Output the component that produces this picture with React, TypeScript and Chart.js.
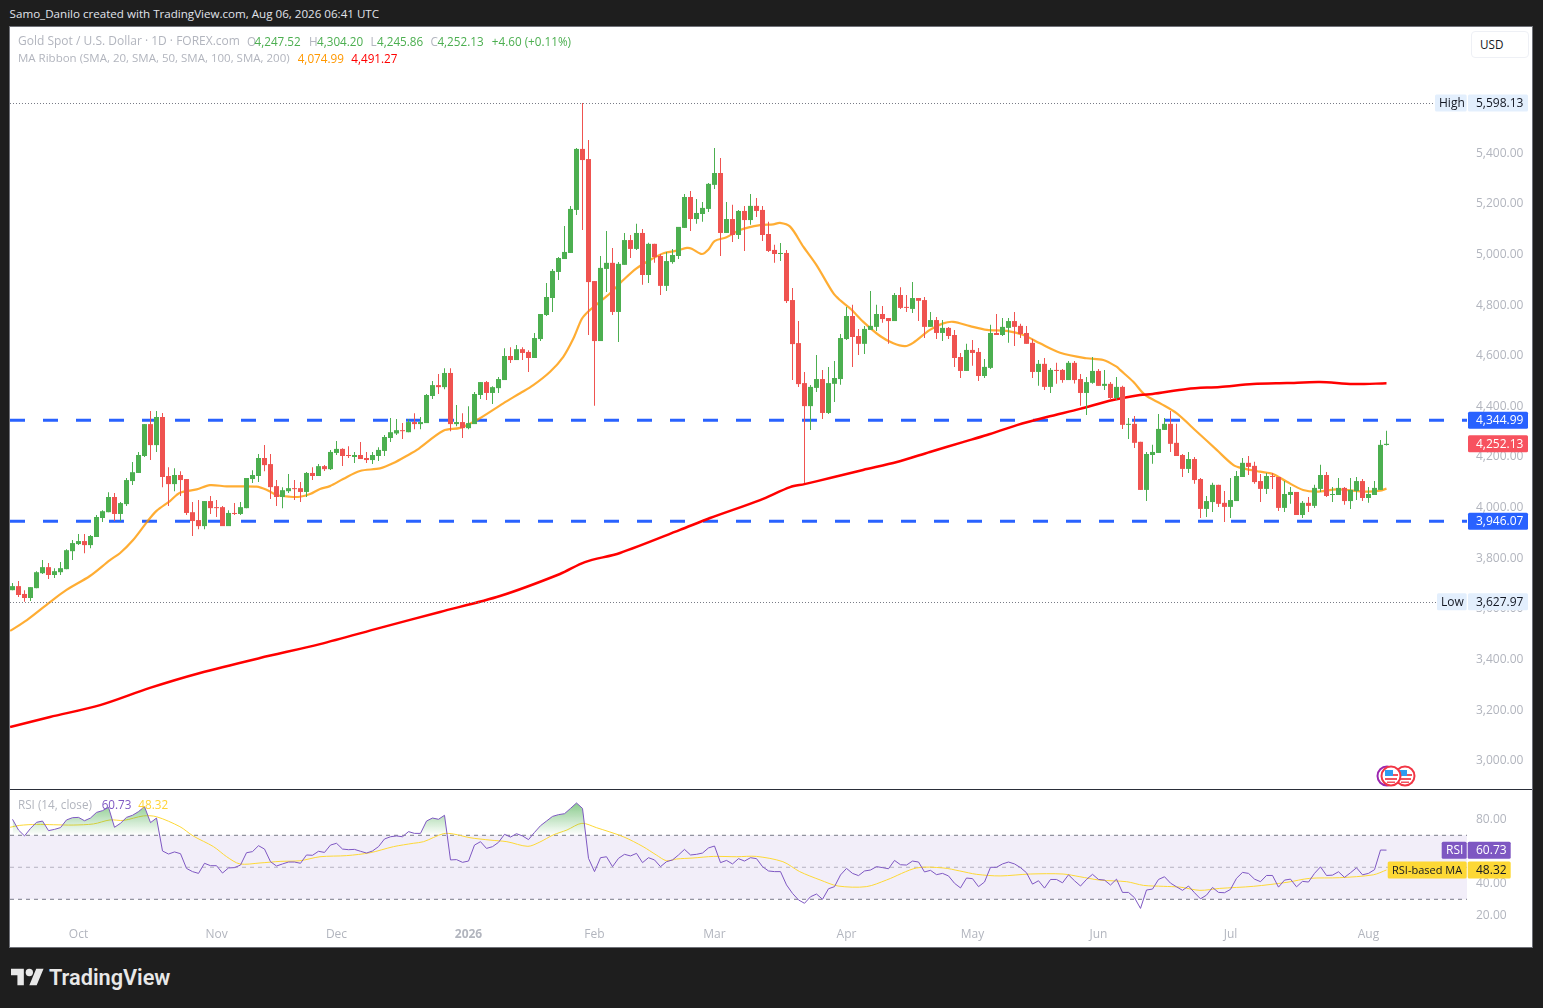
import React, { useEffect, useRef } from "react";
import { Chart, registerables } from "chart.js";

Chart.register(...registerables);

const open = [
3674,3690,3659,3643,3682,3741,3765,3734,3745,3757,
3828,3856,3868,3852,3884,3959,3982,4042,3975,4014,
4105,4137,4204,4330,4247,4358,4125,4093,4129,4113,
3982,3951,3927,4026,4002,4002,3927,3979,3975,3998,
4113,4125,4196,4172,4085,4042,4065,4077,4077,4062,
4137,4125,4164,4152,4216,4232,4208,4200,4208,4196,
4188,4204,4224,4275,4293,4306,4298,4338,4330,4334,
4441,4484,4476,4532,4330,4338,4314,4330,4445,4496,
4453,4472,4504,4599,4583,4626,4615,4591,4666,4761,
4828,4931,4982,5006,5176,5417,5377,4895,4658,4943,
4967,4773,4959,5057,5022,5085,4919,5042,4994,4876,
4970,4994,5105,5227,5140,5160,5180,5275,5322,5085,
5140,5077,5172,5136,5192,5176,5081,5018,5002,5006,
4820,4650,4492,4401,4473,4508,4374,4489,4508,4666,
4757,4678,4647,4702,4714,4765,4749,4737,4840,4793,
4785,4828,4820,4714,4741,4690,4710,4682,4595,4540,
4623,4615,4520,4552,4690,4682,4710,4737,4718,4690,
4651,4536,4568,4477,4544,4544,4504,4572,4508,4453,
4493,4540,4481,4489,4433,4477,4327,4331,4260,4070,
4208,4216,4307,4331,4256,4208,4153,4192,4113,3995,
4022,4090,4019,4003,4026,4121,4177,4165,4105,4074,
4125,4121,3999,4050,4062,3971,4019,4007,4074,4129,
4050,4050,4078,4026,4066,4105,4038,4050,4070,4247.52];

const high = [
3702,3710,3674,3686,3749,3793,3781,3761,3785,3836,
3872,3896,3896,3892,3971,3990,4061,4058,4022,4117,
4180,4220,4330,4382,4382,4374,4160,4156,4144,4113,
4022,4030,4026,4046,4030,4006,3990,4018,4022,4117,
4148,4212,4247,4212,4109,4081,4133,4109,4101,4141,
4160,4172,4168,4228,4263,4235,4243,4220,4259,4220,
4220,4239,4287,4354,4350,4334,4350,4373,4358,4449,
4500,4528,4551,4551,4405,4373,4401,4457,4496,4500,
4480,4516,4630,4634,4642,4634,4622,4690,4765,4887,
4943,4990,5113,5192,5421,5598.13,5452,4895,4994,5093,
5026,4970,5085,5077,5121,5101,5046,5042,5002,5010,
5022,5109,5239,5251,5219,5207,5282,5421,5381,5207,
5196,5176,5192,5239,5223,5192,5129,5038,5045,5018,
4868,4737,4536,4484,4603,4544,4556,4579,4686,4793,
4801,4706,4718,4856,4801,4797,4749,4848,4871,4840,
4891,4828,4832,4773,4753,4741,4714,4702,4611,4647,
4662,4631,4587,4722,4765,4749,4749,4773,4726,4718,
4666,4583,4591,4552,4572,4548,4579,4579,4528,4516,
4595,4548,4544,4496,4516,4481,4354,4362,4260,4220,
4248,4370,4354,4382,4331,4212,4220,4200,4117,4046,
4098,4090,4066,4117,4145,4196,4204,4181,4133,4137,
4137,4121,4105,4082,4062,4026,4042,4090,4169,4141,
4082,4117,4082,4117,4121,4113,4082,4105,4267,4304.2];

const low = [
3674,3647,3628,3631,3682,3738,3718,3722,3734,3757,
3793,3852,3820,3840,3884,3943,3982,3947,3947,4006,
4089,4137,4200,4188,4220,4081,4006,4065,4046,3971,
3888,3915,3915,3975,3963,3927,3927,3971,3971,3998,
4097,4101,4144,4034,4006,3998,4058,4030,4022,4042,
4109,4125,4145,4149,4208,4164,4196,4176,4192,4176,
4172,4184,4204,4259,4287,4271,4298,4310,4310,4334,
4429,4449,4468,4302,4322,4275,4310,4330,4429,4425,
4409,4453,4504,4571,4583,4583,4536,4591,4658,4757,
4773,4899,4982,5006,5156,5097,4682,4402,4658,4852,
4761,4654,4959,4986,5018,4880,4887,4967,4840,4856,
4963,4982,5105,5093,5121,5129,5168,5259,4994,5085,
5049,5061,5014,5117,5148,5053,5010,4967,4974,4808,
4504,4477,4097,4307,4457,4350,4370,4417,4485,4662,
4556,4603,4607,4702,4698,4730,4647,4737,4785,4773,
4769,4737,4670,4714,4666,4658,4666,4556,4512,4540,
4560,4500,4512,4548,4682,4678,4651,4639,4670,4647,
4512,4481,4465,4453,4489,4493,4504,4490,4402,4366,
4489,4481,4465,4425,4425,4311,4271,4236,4070,4026,
4173,4216,4307,4220,4204,4121,4137,4094,3959,3963,
3983,4003,3943,3959,4026,4121,4129,4094,4022,4054,
4074,3987,3983,4015,3971,3959,3983,3999,4062,4042,
4022,4050,4011,3995,4030,4026,4019,4050,4070,4245.86];

const close = [
3690,3655,3643,3686,3745,3765,3734,3749,3761,3832,
3860,3868,3852,3888,3963,3986,4042,3975,4018,4109,
4140,4208,4330,4247,4358,4121,4093,4129,4109,3979,
3947,3927,4026,3998,3998,3927,3979,3975,4002,4117,
4129,4196,4168,4081,4042,4069,4077,4073,4062,4137,
4125,4164,4152,4220,4232,4204,4204,4208,4192,4188,
4208,4228,4279,4298,4306,4302,4338,4330,4338,4445,
4484,4476,4532,4330,4338,4314,4334,4449,4496,4453,
4476,4508,4599,4583,4626,4611,4591,4670,4765,4832,
4935,4986,5010,5180,5417,5373,4891,4658,4947,4967,
4773,4963,5057,5022,5085,4919,5042,4990,4876,4974,
4998,5109,5227,5140,5164,5184,5279,5322,5085,5140,
5077,5172,5136,5192,5172,5077,5014,5002,5006,4816,
4646,4488,4401,4477,4508,4374,4492,4512,4670,4757,
4674,4647,4706,4718,4765,4745,4737,4840,4789,4789,
4828,4817,4714,4741,4690,4710,4678,4591,4540,4623,
4611,4520,4556,4690,4682,4714,4737,4714,4686,4647,
4536,4568,4477,4544,4540,4504,4572,4504,4453,4496,
4540,4481,4489,4433,4477,4327,4331,4256,4070,4212,
4220,4311,4331,4252,4204,4153,4192,4109,3995,4026,
4090,4015,4003,4030,4125,4177,4161,4101,4074,4125,
4121,3999,4054,4062,3971,4019,4007,4078,4129,4046,
4054,4078,4026,4070,4105,4038,4054,4078,4248,4252.13];

// MA Ribbon: bar position (fractional where the read fell between bars) and value
const sma20Bar = [-0.4,2.4,6.25,9,12.9,16.25,17.9,20.1,22.4,24,26.25,27.9,30.7,32.9,35.7,40.7,42.4,44,46.25,47.9,49.6,51.25,52.9,55.1,57.9,61.25,63.4,66.25,67.4,71.8,74.6,77.4,81.8,84.6,86.8,89.6,91.8,93.5,94.9,96,97.9,99.6,101.8,104,106.25,108.5,110.7,112.4,113.2,114.9,116,117,119,121.25,124.6,126.8,127.9,129.6,131.8,134,136.8,137.9,139.6,141.8,144.6,146.8,148.75,150.1,152.9,155.1,156.8,159.6,162.4,165.7,168.5,171.25,174.6,179,181.8,184,184.6,186.8,188.75,191.5,194,197.4,200.7,203.5,205.1,207.9,210.1,212.4,215.1,217.4,220.7,225.7,227.9,229];
const sma20 = [3513,3556,3627,3675,3730,3793,3820,3872,3943,3987,4026,4059,4072,4089,4084,4083,4070,4050,4043,4043,4054,4074,4085,4113,4145,4155,4175,4212,4228,4304,4315,4346,4412,4452,4484,4537,4596,4669,4746,4776,4813,4847,4899,4945,4978,5005,5015,5026,5023,5002,5020,5053,5068,5097,5116,5119,5125,5110,5031,4958,4847,4820,4787,4734,4678,4649,4638,4651,4702,4728,4734,4717,4702,4698,4682,4649,4612,4590,4583,4557,4544,4497,4445,4409,4373,4300,4228,4168,4155,4142,4133,4102,4070,4063,4072,4063,4067,4074.99];

const sma200Bar = [-0.4,6.25,14.6,22.9,31.25,41.25,51.25,61.25,71.25,81.25,91.25,95.4,101.25,111.25,116.25,124.6,129.6,132,136.25,141.75,147.4,152.9,158.4,162.4,167.4,172.4,177.9,183.4,187.9,190,195.75,201.25,206.75,212.4,217.9,223.4,229];
const sma200 = [3133,3173,3220,3288,3347,3406,3461,3525,3588,3651,3738,3785,3821,3912,3959,4030,4081,4093,4117,4149,4180,4220,4259,4287,4326,4358,4390,4425,4445,4449,4469,4477,4488,4492,4496,4488,4491.27];

const rsi = [
80.0,73.3,69.6,74.3,78.1,78.9,72.9,73.7,74.8,79.6,
81.0,81.2,79.1,80.8,84.3,85.4,87.5,75.0,77.5,81.2,
82.5,84.8,87.9,77.9,80.8,60.2,58.3,59.6,58.5,49.3,
47.3,46.2,52.5,51.0,51.0,46.4,49.6,49.8,51.4,59.1,
59.8,63.5,61.4,53.5,50.8,52.1,53.3,53.3,52.5,57.7,
57.5,60.0,59.3,63.9,65.0,61.4,61.0,61.2,60.0,58.9,
60.2,62.9,67.7,69.1,69.6,69.1,72.3,71.2,71.2,78.9,
80.8,80.0,82.5,54.6,54.8,53.1,53.9,63.9,66.0,61.8,
62.9,65.6,70.6,68.9,71.0,69.6,67.3,71.8,76.0,78.9,
81.8,82.9,83.5,86.8,90.2,86.8,55.6,47.3,56.0,56.6,
50.4,55.6,58.1,57.1,58.7,52.9,56.0,54.6,50.4,53.5,
54.6,57.7,61.2,57.7,58.1,58.9,62.1,63.3,52.9,54.3,
52.1,55.4,53.9,56.0,55.4,50.4,47.7,47.3,47.3,39.0,
33.7,29.6,27.5,31.6,33.3,30.0,36.6,37.9,45.2,49.3,
46.2,44.8,47.7,48.3,50.4,49.8,49.1,54.3,51.6,51.4,
53.9,53.3,47.1,48.1,45.4,46.2,44.6,40.0,37.1,43.3,
42.9,37.9,40.8,50.0,50.0,52.1,53.3,52.1,49.8,46.6,
39.5,41.6,37.0,42.4,42.4,40.3,45.3,41.6,38.3,42.4,
45.6,42.4,42.0,38.9,42.6,34.3,34.3,31.0,24.3,35.8,
36.4,42.4,44.1,40.1,37.8,35.6,38.3,34.1,30.3,32.6,
37.4,34.3,34.1,36.2,43.1,46.8,46.2,42.6,41.0,44.9,
44.9,37.6,42.0,42.6,37.8,41.2,40.8,46.2,50.3,44.9,
45.1,47.2,43.7,46.6,49.7,45.3,46.2,48.5,60.8,60.73];

const rsiMaBar = [-0.4,1.2,4,6.8,10.1,13.5,16.25,18.5,21.8,24,27.9,30.1,33.5,35.7,37.9,41.25,44.6,47.9,51.25,55.7,59.6,63.5,66.8,68.5,71.8,73.5,76.25,79.6,82.4,85.9,87.9,90.1,92.4,94.9,97.3,101.8,105.1,107.3,109,110.7,113.4,116.8,120.7,124,128.4,131.2,134.6,137.6,142.3,145.7,150.7,155.1,157.9,160.7,164.6,169.6,175.1,177.9,181.2,185.7,188.5,191.8,194.6,197.9,201.2,206.8,212.4,216.2,221.2,226.8,229];
const rsiMa = [75.0,76.2,76.8,76.6,76.4,77.1,79.6,79.3,82.1,81.6,75.4,69.6,62.9,56.6,52.1,52.7,53.7,54.1,56.6,57.3,59.1,62.9,65.0,66.0,71.0,70.8,68.5,67.0,66.0,63.1,65.8,70.2,73.3,77.5,74.8,69.1,62.9,57.7,54.1,55.2,55.8,56.8,56.6,56.8,53.5,47.3,42.1,38.3,37.9,42.1,49.6,49.6,47.7,45.6,44.6,45.8,45.8,44.1,42.0,41.0,38.7,38.1,37.6,35.6,36.8,38.1,40.6,43.1,43.5,45.3,48.32];

const priceTicks = [3000,3200,3400,3600,3800,4000,4200,4400,4600,4800,5000,5200,5400];
const rsiTicks = [20,40,60,80];
const monthBars = [11,34,54,76,97,117,139,160,181,203,226];
const monthLabels = ["Oct","Nov","Dec","2026","Feb","Mar","Apr","May","Jun","Jul","Aug"];

const highMark = 5598.13;
const lowMark = 3627.97;
const resistance = 4344.99;
const support = 3946.07;
const lastClose = 4252.13;
const lastRsi = 60.73;
const lastRsiMa = 48.32;

const FONT = "'Open Sans', sans-serif";
const GREEN = "#4caf50";
const RED = "#ef5350";
const BLUE = "#2962ff";
const PURPLE = "#7e57c2";
const YELLOW = "#fdd835";
const TICK = "#b2b5be";
const XMIN = -2.5 / 6;
const XMAX = (1457 - 2.5) / 6;

const fmt = (v: number) => v.toLocaleString("en-US", { minimumFractionDigits: 2, maximumFractionDigits: 2 });
const pts = (xs: number[], ys: number[]) => xs.map((x, i) => ({ x, y: ys[i] }));
const flat = (v: number) => [{ x: XMIN, y: v }, { x: XMAX, y: v }];

function tag(ctx: CanvasRenderingContext2D, x0: number, x1: number, yc: number, bg: string, fg: string, text: string, tx: number, size = 12) {
  ctx.fillStyle = bg;
  ctx.beginPath();
  (ctx as any).roundRect(x0, yc - 8.5, x1 - x0, 17, 1.5);
  ctx.fill();
  ctx.fillStyle = fg;
  ctx.font = `400 ${size}px ${FONT}`;
  ctx.textAlign = "left";
  ctx.textBaseline = "middle";
  ctx.fillText(text, tx, yc + 0.5);
}

const mainTags = {
  id: "mainTags",
  afterDraw(chart: any) {
    const { ctx, scales } = chart;
    const y = scales.y;
    ctx.save();
    ctx.strokeStyle = "#787b86";
    ctx.lineWidth = 1;
    ctx.setLineDash([1, 2]);
    for (const v of [highMark, lowMark]) {
      const py = Math.round(y.getPixelForValue(v)) + 0.5;
      ctx.beginPath();
      ctx.moveTo(0, py);
      ctx.lineTo(v === highMark ? 1425 : 1427, py);
      ctx.stroke();
    }
    ctx.setLineDash([]);
    const hy = y.getPixelForValue(highMark);
    tag(ctx, 1425, 1456.7, hy, "#e3effd", "#131722", "High", 1429);
    tag(ctx, 1458, 1518, hy, "#e3effd", "#131722", fmt(highMark), 1466);
    const ly = y.getPixelForValue(lowMark);
    tag(ctx, 1427, 1456.7, ly, "#e3effd", "#131722", "Low", 1431);
    tag(ctx, 1458, 1518, ly, "#e3effd", "#131722", fmt(lowMark), 1466);
    tag(ctx, 1458, 1518, y.getPixelForValue(resistance), BLUE, "#ffffff", fmt(resistance), 1466);
    tag(ctx, 1458, 1518, y.getPixelForValue(support), BLUE, "#ffffff", fmt(support), 1466);
    tag(ctx, 1458, 1518, y.getPixelForValue(lastClose), "#f7525f", "#ffffff", fmt(lastClose), 1466);
    ctx.restore();
  },
};

const rsiTags = {
  id: "rsiTags",
  afterDraw(chart: any) {
    const { ctx, scales } = chart;
    const y = scales.y;
    ctx.save();
    const ry = y.getPixelForValue(lastRsi);
    tag(ctx, 1431.7, 1456.7, ry, PURPLE, "#ffffff", "RSI", 1436);
    tag(ctx, 1457.7, 1500.7, ry, PURPLE, "#ffffff", fmt(lastRsi), 1466);
    const my = y.getPixelForValue(lastRsiMa);
    tag(ctx, 1377.7, 1456.7, my, YELLOW, "#131722", "RSI-based MA", 1382, 11);
    tag(ctx, 1457.7, 1500.7, my, YELLOW, "#131722", fmt(lastRsiMa), 1466);
    ctx.restore();
  },
};

const abs = (left: number, top: number, color: string, size = 11.7): React.CSSProperties => ({
  position: "absolute", left, top, color, fontSize: size, lineHeight: "16px", whiteSpace: "nowrap", fontFamily: FONT,
});

function Flag({ cx, ring }: { cx: number; ring: string }) {
  return (
    <svg style={{ position: "absolute", left: cx - 11, top: 765, zIndex: 2 }} width={22} height={22} viewBox="0 0 22 22">
      <circle cx={11} cy={11} r={9.5} fill="#fff" stroke={ring} strokeWidth={2} />
      <rect x={5} y={9} width={13} height={2} fill="#f0525f" />
      <rect x={5} y={13} width={12} height={2} fill="#f0525f" />
      <rect x={7} y={16.5} width={8} height={1.5} fill="#f0525f" />
      <rect x={5} y={5} width={8} height={6} fill="#2e9cf0" />
    </svg>
  );
}

export default function App() {
  const mainRef = useRef<HTMLCanvasElement>(null);
  const rsiRef = useRef<HTMLCanvasElement>(null);

  useEffect(() => {
    const bars = open.map((_, i) => i);
    const col = (c: any) => (close[c.dataIndex] >= open[c.dataIndex] ? GREEN : RED);
    const xAxisBase = {
      type: "linear" as const, min: XMIN, max: XMAX, offset: false,
      grid: { display: false }, border: { display: false },
    };

    const main = new Chart(mainRef.current!, {
      type: "bar",
      data: {
        datasets: [
          { type: "line", data: flat(resistance), borderColor: BLUE, borderWidth: 3, borderDash: [15, 18], pointRadius: 0, order: 5 },
          { type: "line", data: flat(support), borderColor: BLUE, borderWidth: 3, borderDash: [15, 18], pointRadius: 0, order: 5 },
          { type: "line", data: pts(sma20Bar, sma20), borderColor: "rgba(255,152,0,0.8)", borderWidth: 2.2, pointRadius: 0, tension: 0.3, order: 4 },
          { type: "line", data: pts(sma200Bar, sma200), borderColor: "#ff0000", borderWidth: 2.5, pointRadius: 0, tension: 0.3, order: 3 },
          { type: "bar", data: bars.map((i) => ({ x: i, y: [low[i], high[i]] })), backgroundColor: col, barThickness: 1, grouped: false, inflateAmount: 0, order: 2 },
          { type: "bar", data: bars.map((i) => ({ x: i, y: [Math.min(open[i], close[i]), Math.max(open[i], close[i])] })), backgroundColor: col, barThickness: 5, grouped: false, inflateAmount: 0, minBarLength: 1, order: 1 },
        ] as any,
      },
      options: {
        responsive: false, animation: false, events: [],
        layout: { padding: 0, autoPadding: false },
        plugins: { legend: { display: false }, tooltip: { enabled: false } },
        scales: {
          x: { ...xAxisBase, display: false },
          y: {
            position: "right", min: 2888.6, max: 5898.6,
            grid: { display: false, drawTicks: false }, border: { display: false },
            afterFit: (s: any) => { s.width = 65; s.paddingTop = 0; s.paddingBottom = 0; },
            afterBuildTicks: (s: any) => { s.ticks = priceTicks.map((value) => ({ value })); },
            ticks: { color: TICK, padding: 9, font: { family: FONT, size: 12 }, callback: (v: any) => fmt(Number(v)) },
          },
        },
      } as any,
      plugins: [mainTags],
    });

    const rsiChart = new Chart(rsiRef.current!, {
      type: "line",
      data: {
        datasets: [
          { data: flat(70), borderColor: "#787b86", borderWidth: 1, borderDash: [4, 4], pointRadius: 0, fill: { target: { value: 30 }, above: "rgba(126,87,194,0.1)", below: "rgba(126,87,194,0.1)" }, order: 5 },
          { data: flat(50), borderColor: "rgba(120,123,134,0.5)", borderWidth: 1, borderDash: [4, 4], pointRadius: 0, order: 5 },
          { data: flat(30), borderColor: "#787b86", borderWidth: 1, borderDash: [4, 4], pointRadius: 0, order: 5 },
          { data: pts(rsiMaBar, rsiMa), borderColor: YELLOW, borderWidth: 1, pointRadius: 0, tension: 0.3, order: 2 },
          { data: pts(open.map((_, i) => i), rsi), borderColor: PURPLE, borderWidth: 1, pointRadius: 0, fill: { target: { value: 70 }, above: "rgba(76,175,80,0.3)", below: "rgba(0,0,0,0)" }, order: 1 },
        ] as any,
      },
      options: {
        responsive: false, animation: false, events: [],
        layout: { padding: 0, autoPadding: false },
        plugins: { legend: { display: false }, tooltip: { enabled: false } },
        scales: {
          x: {
            ...xAxisBase,
            afterFit: (s: any) => { s.height = 27; s.paddingLeft = 0; s.paddingRight = 0; },
            afterBuildTicks: (s: any) => { s.ticks = monthBars.map((value) => ({ value })); },
            ticks: {
              color: TICK, padding: 7, maxRotation: 0, autoSkip: false,
              font: (c: any) => ({ family: FONT, size: 12, weight: c.tick && monthLabels[monthBars.indexOf(c.tick.value)] === "2026" ? "bold" : "normal" }),
              callback: (v: any) => monthLabels[monthBars.indexOf(Number(v))] ?? "",
            },
            grid: { display: false, drawTicks: false },
          },
          y: {
            position: "right", min: 17.06, max: 98.31,
            grid: { display: false, drawTicks: false }, border: { display: false },
            afterFit: (s: any) => { s.width = 65; s.paddingTop = 0; s.paddingBottom = 0; },
            afterBuildTicks: (s: any) => { s.ticks = rsiTicks.map((value) => ({ value })); },
            ticks: { color: TICK, padding: 9, font: { family: FONT, size: 12 }, callback: (v: any) => fmt(Number(v)) },
          },
        },
      } as any,
      plugins: [rsiTags],
    });
    const s = rsiChart.scales.y;
    const g = rsiChart.ctx.createLinearGradient(0, s.getPixelForValue(90), 0, s.getPixelForValue(70));
    g.addColorStop(0, "rgba(76,175,80,0.65)");
    g.addColorStop(1, "rgba(76,175,80,0)");
    (rsiChart.data.datasets[4] as any).fill.above = g;
    rsiChart.update("none");

    return () => { main.destroy(); rsiChart.destroy(); };
  }, []);

  return (
    <div style={{ position: "fixed", left: 0, top: 0, width: 1543, height: 1008, background: "#1e1e1e", overflow: "hidden", fontFamily: FONT }}>
      <div style={abs(9.6, 6, "#e0e3eb", 11.6)}>Samo_Danilo created with TradingView.com, Aug 06, 2026 06:41 UTC</div>

      <div style={{ position: "absolute", left: 9, top: 26, width: 1522, height: 920, background: "#fff", border: "1px solid #6f7178" }} />
      <canvas ref={mainRef} width={1522} height={762} style={{ position: "absolute", left: 10, top: 27, display: "block" }} />
      <div style={{ position: "absolute", left: 10, top: 789, width: 1522, height: 1, background: "#2a2e39" }} />
      <canvas ref={rsiRef} width={1522} height={157} style={{ position: "absolute", left: 10, top: 790, display: "block" }} />

      <div style={abs(18, 33, TICK, 12)}>Gold Spot / U.S. Dollar · 1D · FOREX.com</div>
      <div style={abs(247, 33, TICK)}>O</div><div style={abs(254.5, 33, GREEN)}>4,247.52</div>
      <div style={abs(309, 33, TICK)}>H</div><div style={abs(317, 33, GREEN)}>4,304.20</div>
      <div style={abs(370.5, 33, TICK)}>L</div><div style={abs(377, 33, GREEN)}>4,245.86</div>
      <div style={abs(430.5, 33, TICK)}>C</div><div style={abs(437.4, 33, GREEN)}>4,252.13</div>
      <div style={abs(491.8, 33, GREEN)}>+4.60 (+0.11%)</div>
      <div style={abs(18, 50, TICK, 11.5)}>MA Ribbon (SMA, 20, SMA, 50, SMA, 100, SMA, 200)</div>
      <div style={abs(297.7, 50, "#ff9800")}>4,074.99</div>
      <div style={abs(351.3, 50, "#ff0000")}>4,491.27</div>

      <div style={{ ...abs(1471, 30.5, "#131722"), width: 56, height: 25, boxSizing: "content-box", border: "1px solid #eef0f5", borderRadius: 4, background: "#fff", lineHeight: "25px", textIndent: 8 }}>USD</div>

      <div style={abs(18, 796, TICK)}>RSI (14, close)</div>
      <div style={abs(101.7, 796, PURPLE)}>60.73</div>
      <div style={abs(138.3, 796, "#ffd335")}>48.32</div>

      <svg style={{ position: "absolute", left: 1376, top: 765, zIndex: 1 }} width={22} height={22} viewBox="0 0 22 22">
        <circle cx={11} cy={11} r={9.5} fill="#fff" stroke="#9c27b0" strokeWidth={2} />
      </svg>
      <Flag cx={1405} ring="#f23645" />
      <Flag cx={1391} ring="#f23645" />

      <svg style={{ position: "absolute", left: 11, top: 965, zIndex: 1 }} width={33} height={26} viewBox="0 0 36 28">
        <path fill="#e8e8e8" d="M14 22H7V11H0V4h14v18zM28 22h-8l7.5-18h8L28 22z" />
        <circle fill="#e8e8e8" cx="20" cy="8" r="4" />
      </svg>
      <div style={{ position: "absolute", left: 49, top: 963, color: "#e8e8e8", fontSize: 21.7, lineHeight: "30px", fontWeight: 600, fontFamily: "Roboto, sans-serif" }}>TradingView</div>
    </div>
  );
}
